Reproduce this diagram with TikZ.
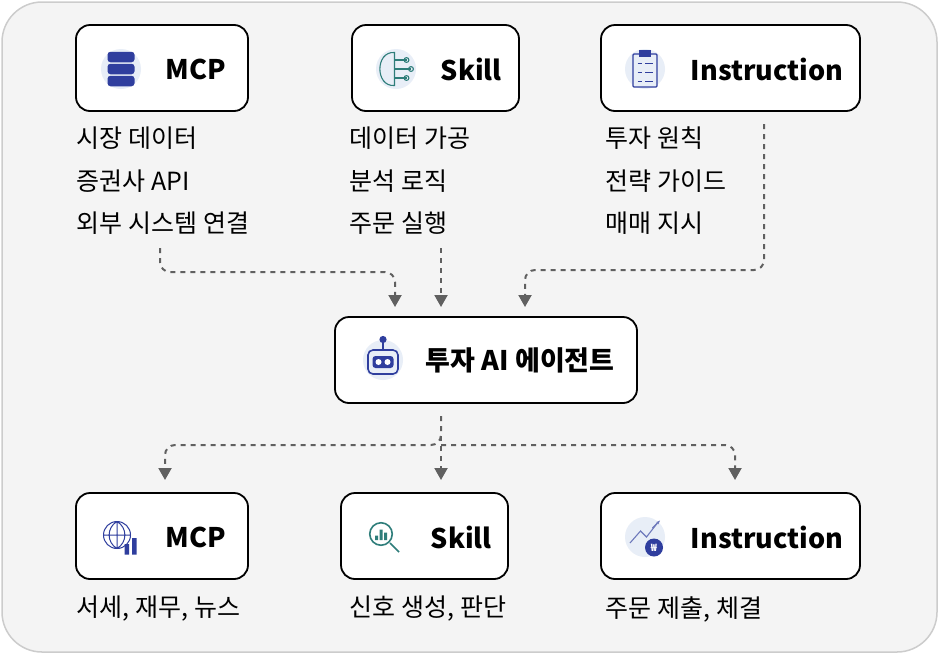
\documentclass[tikz,border=0pt]{standalone}
\usepackage{fontspec}
\setmainfont{Noto Sans CJK KR}
\usetikzlibrary{arrows.meta,positioning}

\definecolor{bgcol}{HTML}{F4F4F4}
\definecolor{iconbg}{HTML}{E8EEF7}
\definecolor{navy}{HTML}{2F3E9E}
\definecolor{teal}{HTML}{2E7D7A}
\definecolor{lineg}{HTML}{606060}

\begin{document}
\begin{tikzpicture}[x=1pt, y=-1pt, line width = 1.8pt,
                    box/.style = {draw, fill = white, rounded corners = 14pt, inner sep = 0pt},
                    icon/.style = {circle, fill = iconbg, minimum size = 40pt, inner sep = 0pt},
                    title/.style = {font = \fontsize{27}{30}\selectfont\bfseries, anchor = west, inner sep = 0pt},
                    item/.style = {font = \fontsize{25}{28}\selectfont, anchor = west, inner sep = 0pt},
                    flow/.style = {draw = lineg, line width = 2pt, dash pattern = on 5pt off 5pt,
                                   rounded corners = 10pt, -{Triangle[length = 12pt, width = 13pt]}}]
      \useasboundingbox (0, 0) rectangle (939, 654);
      \draw [rounded corners = 40pt, fill = bgcol, draw = gray!40, line width = 1.5pt] (2, 2) rectangle (937, 652);

      % top boxes
      \draw [box] (76, 25) rectangle (248, 111);
      \draw [box] (352, 25) rectangle (519, 111);
      \draw [box] (601, 25) rectangle (860, 111);
      \node [icon] (i1) at (121, 69){};
      \node [icon] (i2) at (396, 69){};
      \node [icon] (i3) at (645, 69){};
      \node [title] (t1) at (165, 69){MCP};
      \node [title] (t2) at (440, 69){Skill};
      \node [title] (t3) at (690, 69){Instruction};
      % database icon
      \begin{scope}[shift = {(121, 69)}, scale = 1.5]
        \foreach \y in {-8, 0, 8}
          \fill [navy, rounded corners = 3pt] (-9, \y - 3.5) rectangle (9, \y + 3.5);
      \end{scope}
      % brain icon
      \begin{scope}[shift = {(396, 69)}, scale = 1.5, teal, line width = 1.1pt]
        \draw (-1, -11) .. controls (-14, -12) and (-14, 12) .. (-1, 11) -- cycle;
        \draw (-1, -6) -- (7, -6) (-1, 0) -- (10, 0) (-1, 6) -- (7, 6);
        \draw (7, -6) circle (1.6pt) (10, 0) circle (1.6pt) (7, 6) circle (1.6pt);
      \end{scope}
      % clipboard icon
      \begin{scope}[shift = {(645, 69)}, scale = 1.5, navy]
        \draw [line width = 1.2pt, rounded corners = 1pt] (-8, -10) rectangle (8, 12);
        \fill (-4, -13) rectangle (4, -8);
        \foreach \y in {-4, 2, 8}
          \draw [line width = 1pt] (-5, \y) -- (-2, \y) (0, \y) -- (5, \y);
      \end{scope}

      % top lists
      \node [item] (m1) at (76, 138){시장 데이터};
      \node [item] (m2) at (76, 181){증권사 API};
      \node [item] (m3) at (76, 223){외부 시스템 연결};
      \node [item] (s1) at (349, 138){데이터 가공};
      \node [item] (s2) at (349, 181){분석 로직};
      \node [item] (s3) at (349, 223){주문 실행};
      \node [item] (n1) at (605, 138){투자 원칙};
      \node [item] (n2) at (605, 181){전략 가이드};
      \node [item] (n3) at (605, 223){매매 지시};

      % agent
      \draw [box] (335, 317) rectangle (637, 403);
      \node [icon] (ia) at (383, 360){};
      \begin{scope}[shift = {(383, 362)}, scale = 1.5, navy]
        \draw [line width = 1.6pt, rounded corners = 5pt] (-10, -8) rectangle (10, 8);
        \fill [rounded corners = 3pt] (-7, -4) rectangle (7, 4);
        \fill [white] (-3, 0) circle (2pt) (3, 0) circle (2pt);
        \draw [line width = 1.3pt] (0, -8) -- (0, -14);
        \fill (0, -15) circle (2.4pt);
      \end{scope}
      \node [title] (agent) at (425, 360){투자 AI 에이전트};

      % bottom boxes
      \draw [box] (76, 493) rectangle (248, 579);
      \draw [box] (341, 493) rectangle (508, 579);
      \draw [box] (601, 493) rectangle (860, 579);
      \node [icon, fill = white] (j1) at (120, 537){};
      \node [icon, fill = white] (j2) at (384, 537){};
      \node [icon] (j3) at (645, 537){};
      \node [title] (u1) at (165, 537){MCP};
      \node [title] (u2) at (430, 537){Skill};
      \node [title] (u3) at (690, 537){Instruction};
      % globe icon
      \begin{scope}[shift = {(117, 535)}, scale = 1.5, navy, line width = 1pt]
        \draw (0, 0) circle (9pt) (0, -9) -- (0, 9) (-9, 0) -- (9, 0)
              (0, -9) .. controls (-7, -5) and (-7, 5) .. (0, 9)
              (0, -9) .. controls (7, -5) and (7, 5) .. (0, 9);
        \fill (5, 6) rectangle (8, 13) (10, 2) rectangle (13, 13);
      \end{scope}
      % magnifier icon
      \begin{scope}[shift = {(381, 534)}, scale = 1.5, teal]
        \draw [line width = 1.6pt] (0, 0) circle (7.5pt) (6, 6) -- (12, 12);
        \fill (-4, 1) rectangle (-2, 4) (-1, -3) rectangle (1, 4) (2, -1) rectangle (4, 4);
      \end{scope}
      % chart and won icon
      \begin{scope}[shift = {(645, 537)}, scale = 1.5]
        \draw [navy!70, line width = 1.1pt] (-10, 4) -- (-3, -4) -- (1, 0) -- (8, -9);
        \draw [navy!70, line width = 1.1pt, -{Stealth[length = 4pt]}] (5, -6) -- (10, -11);
        \fill [navy] (6, 7) circle (6pt);
        \node [font = \fontsize{10}{10}\selectfont\bfseries, text = white, inner sep = 0pt] (won) at (6, 7){₩};
      \end{scope}

      \node [item] (b1) at (76, 609){서세, 재무, 뉴스};
      \node [item] (b2) at (349, 609){신호 생성, 판단};
      \node [item] (b3) at (605, 609){주문 제출, 체결};

      % connectors
      \coordinate (c1) at (160, 248);
      \coordinate (c2) at (441, 248);
      \coordinate (c3) at (764, 124);
      \coordinate (a1) at (395, 307);
      \coordinate (a2) at (441, 307);
      \coordinate (a3) at (525, 307);
      \coordinate (d0) at (441, 416);
      \coordinate (e1) at (165, 480);
      \coordinate (e2) at (441, 480);
      \coordinate (e3) at (735, 480);
      \draw [flow] (c1) |- (395, 272) -- (a1);
      \draw [flow] (c2) -- (a2);
      \draw [flow] (c3) |- (525, 270) -- (a3);
      \draw [flow] (d0) -- (441, 445) -| (e1);
      \draw [flow] (d0) -- (e2);
      \draw [flow] (441, 445) -| (e3);
\end{tikzpicture}
\end{document}
